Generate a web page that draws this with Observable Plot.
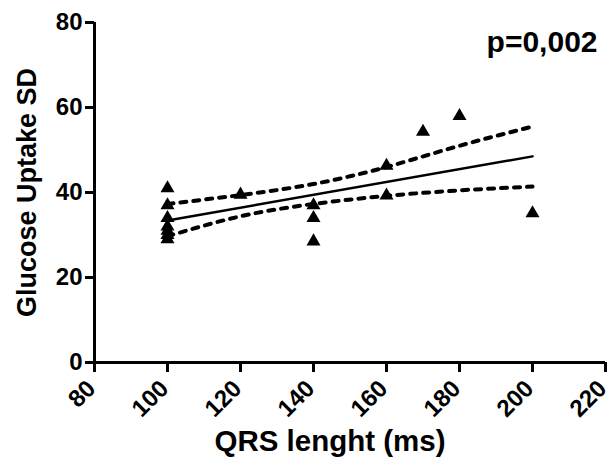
<!DOCTYPE html>
<html>
<head>
<meta charset="utf-8">
<script src="https://cdn.jsdelivr.net/npm/d3@7"></script>
<script src="https://cdn.jsdelivr.net/npm/@observablehq/plot@0.6"></script>
<style>
  html, body { margin: 0; padding: 0; background: #fff; }
  #chart svg { display: block; }
</style>
</head>
<body>
<div id="chart"></div>
<script>
// Data points (QRS length in ms vs glucose uptake SD)
const qrsLength = [100, 100, 100, 100, 100, 100, 100, 120, 140, 140, 140, 160, 160, 170, 180, 200];
const glucoseSD = [41, 37, 34, 32, 31, 30, 29, 39.5, 37, 34, 28.5, 46.3, 39.3, 54.3, 58, 35.1];

// Regression line
const fitX = [100, 200];
const fitY = [33.4, 48.5];

// 95% confidence band bounds
const ciX = [100, 120, 140, 160, 180, 200];
const ciUpper = [37.3, 39.4, 42.0, 46.0, 51.0, 55.5];
const ciLower = [29.7, 34.4, 37.3, 39.2, 40.5, 41.4];

const xTicks = [80, 100, 120, 140, 160, 180, 200, 220];
const yTicks = [0, 20, 40, 60, 80];
const xTitle = "QRS lenght (ms)";
const yTitle = "Glucose Uptake SD";
const pLabel = "p=0,002";

const points = qrsLength.map((x, i) => ({x, y: glucoseSD[i]}));
const fit = fitX.map((x, i) => ({x, y: fitY[i]}));
const upper = ciX.map((x, i) => ({x, y: ciUpper[i]}));
const lower = ciX.map((x, i) => ({x, y: ciLower[i]}));

const chart = Plot.plot({
  width: 610,
  height: 463,
  marginLeft: 94,
  marginRight: 5,
  marginTop: 22,
  marginBottom: 101,
  style: {fontFamily: "'Liberation Sans', Arial, sans-serif", fontWeight: "bold", fontSize: "24px", color: "#000", background: "#fff", overflow: "visible"},
  x: {domain: [80, 220]},
  y: {domain: [0, 80]},
  marks: [
    Plot.axisY({ticks: yTicks, tickSize: 9, tickPadding: 3, strokeWidth: 3, label: null, fontSize: 24, fontWeight: "bold"}),
    Plot.axisX({ticks: xTicks, tickSize: 10, strokeWidth: 3, text: null, label: null}),
    Plot.axisX({ticks: xTicks, tickSize: 0, tickPadding: 22, tickRotate: -45, dx: -3, label: null, fontSize: 24, fontWeight: "bold"}),
    Plot.ruleX([80], {stroke: "#000", strokeWidth: 3}),
    Plot.ruleY([0], {stroke: "#000", strokeWidth: 3}),
    Plot.line(upper, {x: "x", y: "y", curve: "natural", stroke: "#000", strokeWidth: 4, strokeDasharray: "6,7", strokeLinecap: "round"}),
    Plot.line(lower, {x: "x", y: "y", curve: "natural", stroke: "#000", strokeWidth: 4, strokeDasharray: "6,7", strokeLinecap: "round"}),
    Plot.line(fit, {x: "x", y: "y", stroke: "#000", strokeWidth: 2.5}),
    Plot.dot(points, {x: "x", y: "y", symbol: "triangle", r: 5.2, fill: "#000", stroke: null}),
    Plot.text([pLabel], {frameAnchor: "top-right", dx: -8, dy: 20, textAnchor: "end", lineAnchor: "middle", fontSize: 30, fontWeight: "bold", fill: "#000"}),
    Plot.text([xTitle], {frameAnchor: "bottom", textAnchor: "middle", dx: -20, dy: 79, lineAnchor: "middle", fontSize: 29.5, fontWeight: "bold", fill: "#000"}),
    Plot.text([yTitle], {frameAnchor: "left", textAnchor: "middle", dx: -67, rotate: -90, lineAnchor: "middle", fontSize: 27, fontWeight: "bold", fill: "#000"})
  ]
});
document.getElementById("chart").appendChild(chart);
</script>
</body>
</html>
